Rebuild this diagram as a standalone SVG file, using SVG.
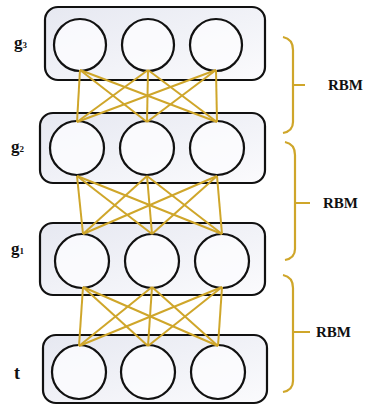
<svg xmlns="http://www.w3.org/2000/svg" width="367" height="405" viewBox="0 0 367 405">
<style>
.box{fill:url(#bg);stroke:#111;stroke-width:2.2}
.n{fill:#fcfcfe;fill-opacity:0.85;stroke:#111;stroke-width:2.2}
.c line{stroke:#CFA62A;stroke-width:2}
.br{fill:none;stroke:#CFA62A;stroke-width:2.2}
.lab{font-family:"Liberation Serif",serif;font-weight:bold;fill:#111}
</style>
<defs>
<linearGradient id="bg" x1="0" y1="0" x2="1" y2="1">
<stop offset="0" stop-color="#e6e8f1"/>
<stop offset="1" stop-color="#fbfbfd"/>
</linearGradient>
</defs>
<rect width="367" height="405" fill="#fff"/>
<g id="layer-g3">
<rect class="box" x="45" y="7" width="220" height="73" rx="13"/>
<circle class="n" cx="80" cy="45" r="26"/>
<circle class="n" cx="148" cy="45" r="26"/>
<circle class="n" cx="216" cy="45" r="26"/>
<text class="lab" x="14" y="48" font-size="17">g<tspan font-size="9">3</tspan></text>
</g>
<g id="layer-g2">
<rect class="box" x="40" y="113" width="225" height="70" rx="13"/>
<circle class="n" cx="77" cy="148" r="27"/>
<circle class="n" cx="147" cy="148" r="27"/>
<circle class="n" cx="217" cy="148" r="27"/>
<text class="lab" x="11" y="152" font-size="17">g<tspan font-size="9">2</tspan></text>
</g>
<g id="layer-g1">
<rect class="box" x="40" y="223" width="225" height="72" rx="13"/>
<circle class="n" cx="82" cy="261" r="27"/>
<circle class="n" cx="152" cy="261" r="27"/>
<circle class="n" cx="222" cy="261" r="27"/>
<text class="lab" x="11" y="254" font-size="17">g<tspan font-size="9">1</tspan></text>
</g>
<g id="layer-t">
<rect class="box" x="43" y="335" width="224" height="68" rx="13"/>
<circle class="n" cx="79" cy="372" r="27"/>
<circle class="n" cx="148" cy="372" r="27"/>
<circle class="n" cx="218" cy="372" r="27"/>
<text class="lab" x="14" y="379" font-size="18">t</text>
</g>
<g id="connectors" class="c">
<line x1="80" y1="70" x2="77" y2="122"/><line x1="80" y1="70" x2="147" y2="122"/><line x1="80" y1="70" x2="217" y2="122"/>
<line x1="148" y1="70" x2="77" y2="122"/><line x1="148" y1="70" x2="147" y2="122"/><line x1="148" y1="70" x2="217" y2="122"/>
<line x1="216" y1="70" x2="77" y2="122"/><line x1="216" y1="70" x2="147" y2="122"/><line x1="216" y1="70" x2="217" y2="122"/>
<line x1="77" y1="176" x2="83" y2="234"/><line x1="77" y1="176" x2="152" y2="234"/><line x1="77" y1="176" x2="222" y2="234"/>
<line x1="147" y1="176" x2="83" y2="234"/><line x1="147" y1="176" x2="152" y2="234"/><line x1="147" y1="176" x2="222" y2="234"/>
<line x1="217" y1="176" x2="83" y2="234"/><line x1="217" y1="176" x2="152" y2="234"/><line x1="217" y1="176" x2="222" y2="234"/>
<line x1="83" y1="287" x2="79" y2="346"/><line x1="83" y1="287" x2="148" y2="346"/><line x1="83" y1="287" x2="218" y2="346"/>
<line x1="152" y1="287" x2="79" y2="346"/><line x1="152" y1="287" x2="148" y2="346"/><line x1="152" y1="287" x2="218" y2="346"/>
<line x1="222" y1="287" x2="79" y2="346"/><line x1="222" y1="287" x2="148" y2="346"/><line x1="222" y1="287" x2="218" y2="346"/>
</g>
<g id="rbm1">
<path class="br" d="M283,37 Q293,39 293,50 L293,122 Q293,131 283,133 M293,85 L305,85"/>
<text class="lab" x="328" y="90" font-size="15">RBM</text>
</g>
<g id="rbm2">
<path class="br" d="M285,142 Q295,144 295,155 L295,249 Q295,258 285,260 M295,203 L310,203"/>
<text class="lab" x="323" y="208" font-size="15">RBM</text>
</g>
<g id="rbm3">
<path class="br" d="M283,275 Q293,277 293,288 L293,381 Q293,390 283,392 M293,332 L310,332"/>
<text class="lab" x="316" y="337" font-size="15">RBM</text>
</g>
</svg>
